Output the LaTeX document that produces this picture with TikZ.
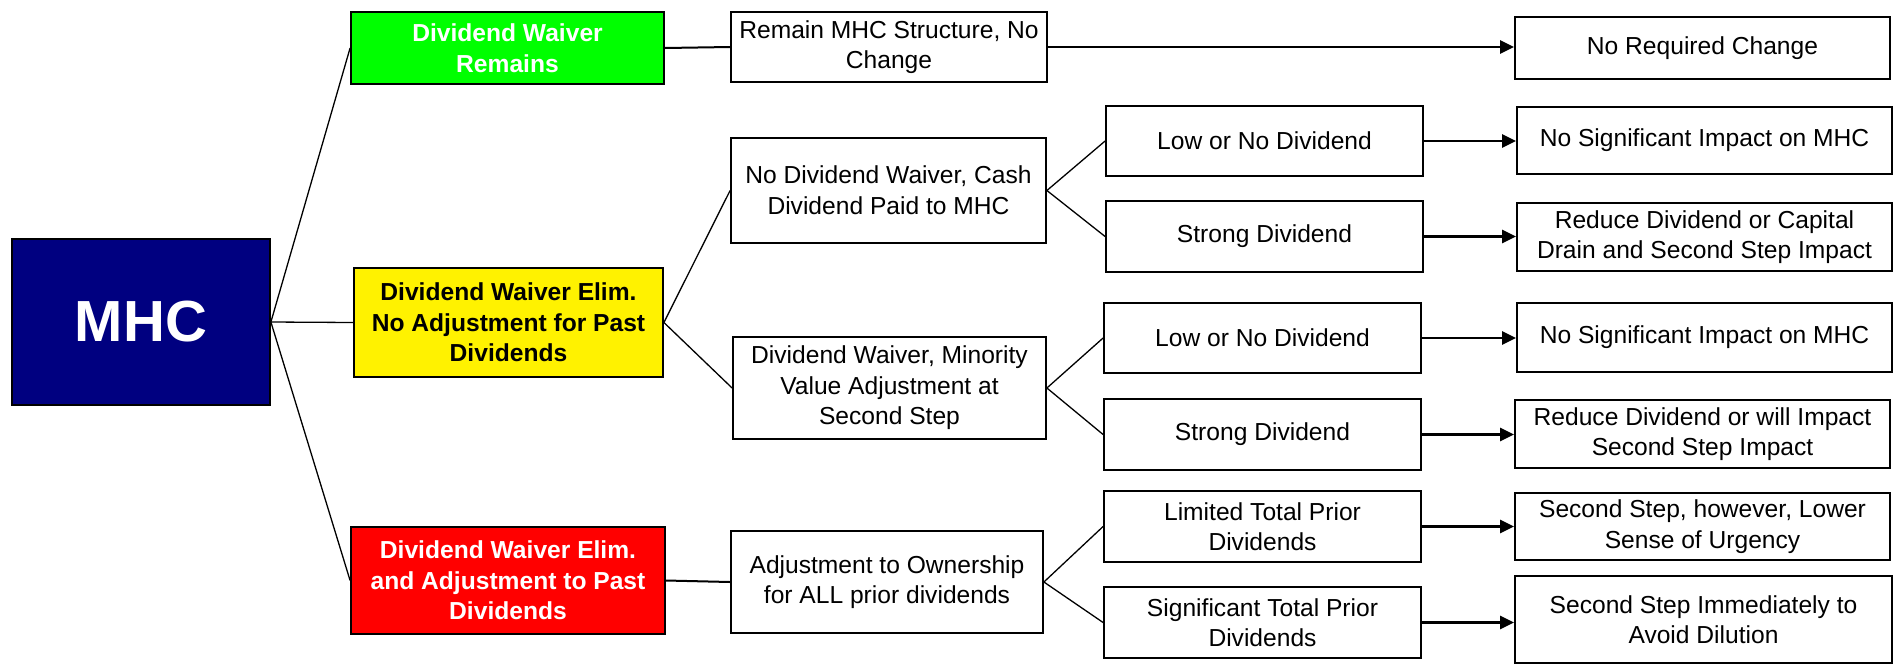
\documentclass[tikz,border=0pt]{standalone}
\usepackage{fontspec}
\setmainfont{Liberation Sans}
\usetikzlibrary{arrows.meta}
\definecolor{mhcblue}{RGB}{0,0,128}

\begin{document}
\begin{tikzpicture}[x=0.5pt,y=-0.5pt,
  box/.style={draw=black, line width=0.9pt, fill=white, align=center, inner sep=0pt,
    font=\fontsize{12.3}{15.3}\selectfont},
  choice/.style={box, font=\fontsize{12.3}{15.3}\selectfont\bfseries},
  link/.style={black, line width=0.65pt},
  goto/.style={black, line width=1.3pt, -{Triangle[length=7pt,width=6.5pt]}}]

\useasboundingbox (0,0) rectangle (1900,665);

% root
\node[box, fill=mhcblue, text=white, minimum width=129pt, minimum height=83pt,
  font=\fontsize{29}{34}\selectfont\bfseries] (mhc) at (141,322) {MHC};

% waiver choices
\node[choice, fill=green, text=white, minimum width=156.5pt, minimum height=36pt] (remains) at (507.5,48) {Dividend Waiver\\Remains};
\node[choice, fill=yellow, minimum width=154.5pt, minimum height=54.5pt] (noadjust) at (508.5,322.5) {Dividend Waiver Elim.\\No Adjustment for Past\\Dividends};
\node[choice, fill=red, text=white, minimum width=157pt, minimum height=53.5pt] (pastadjust) at (508,580.5) {Dividend Waiver Elim.\\and Adjustment to Past\\Dividends};

% consequences
\node[box, minimum width=158pt, minimum height=35pt] (nochange) at (889,47) {Remain MHC Structure, No\\Change};
\node[box, minimum width=157.5pt, minimum height=52.5pt] (cashpaid) at (888.5,190.5) {No Dividend Waiver, Cash\\Dividend Paid to MHC};
\node[box, minimum width=156.5pt, minimum height=51pt] (minority) at (889.5,388) {Dividend Waiver, Minority\\Value Adjustment at\\Second Step};
\node[box, minimum width=156pt, minimum height=51pt] (ownership) at (887,582) {Adjustment to Ownership\\for ALL prior dividends};

% dividend level
\node[box, minimum width=158.5pt, minimum height=35pt] (low1) at (1264.5,141) {Low or No Dividend};
\node[box, minimum width=158.5pt, minimum height=35.5pt] (strong1) at (1264.5,236.5) {Strong Dividend};
\node[box, minimum width=158.5pt, minimum height=35pt] (low2) at (1262.5,338) {Low or No Dividend};
\node[box, minimum width=158.5pt, minimum height=35.5pt] (strong2) at (1262.5,434.5) {Strong Dividend};
\node[box, minimum width=158.5pt, minimum height=35.5pt] (limited) at (1262.5,526.5) {Limited Total Prior\\Dividends};
\node[box, minimum width=158.5pt, minimum height=35.5pt] (significant) at (1262.5,622.5) {Significant Total Prior\\Dividends};

% outcomes
\node[box, minimum width=187.5pt, minimum height=31pt] (norequired) at (1702.5,48) {No Required Change};
\node[box, minimum width=187.5pt, minimum height=33.5pt] (noimpact1) at (1704.5,140.5) {No Significant Impact on MHC};
\node[box, minimum width=187.5pt, minimum height=34pt] (capital) at (1704.5,237) {Reduce Dividend or Capital\\Drain and Second Step Impact};
\node[box, minimum width=187.5pt, minimum height=34.5pt] (noimpact2) at (1704.5,337.5) {No Significant Impact on MHC};
\node[box, minimum width=187.5pt, minimum height=34pt] (willimpact) at (1702.5,434) {Reduce Dividend or will Impact\\Second Step Impact};
\node[box, minimum width=187.5pt, minimum height=33.5pt] (urgency) at (1702.5,526.5) {Second Step, however, Lower\\Sense of Urgency};
\node[box, minimum width=188.5pt, minimum height=43.5pt] (dilution) at (1703.5,619.5) {Second Step Immediately to\\Avoid Dilution};

% connectors
\draw[link] (mhc.east) -- (remains.west);
\draw[link] (mhc.east) -- (noadjust.west);
\draw[link] (mhc.east) -- (pastadjust.west);

\draw[link, line width=1pt] (remains.east) -- (nochange.west);
\draw[link] (noadjust.east) -- (cashpaid.west);
\draw[link] (noadjust.east) -- (minority.west);
\draw[link, line width=1pt] (pastadjust.east) -- (ownership.west);

\draw[link] (cashpaid.east) -- (low1.west);
\draw[link] (cashpaid.east) -- (strong1.west);
\draw[link] (minority.east) -- (low2.west);
\draw[link] (minority.east) -- (strong2.west);
\draw[link] (ownership.east) -- (limited.west);
\draw[link] (ownership.east) -- (significant.west);

\draw[goto] (nochange.east) -- (nochange.east -| norequired.west);
\draw[goto] (low1.east) -- (low1.east -| noimpact1.west);
\draw[goto] (strong1.east) -- (strong1.east -| capital.west);
\draw[goto] (low2.east) -- (low2.east -| noimpact2.west);
\draw[goto] (strong2.east) -- (strong2.east -| willimpact.west);
\draw[goto] (limited.east) -- (limited.east -| urgency.west);
\draw[goto] (significant.east) -- (significant.east -| dilution.west);

\end{tikzpicture}
\end{document}
